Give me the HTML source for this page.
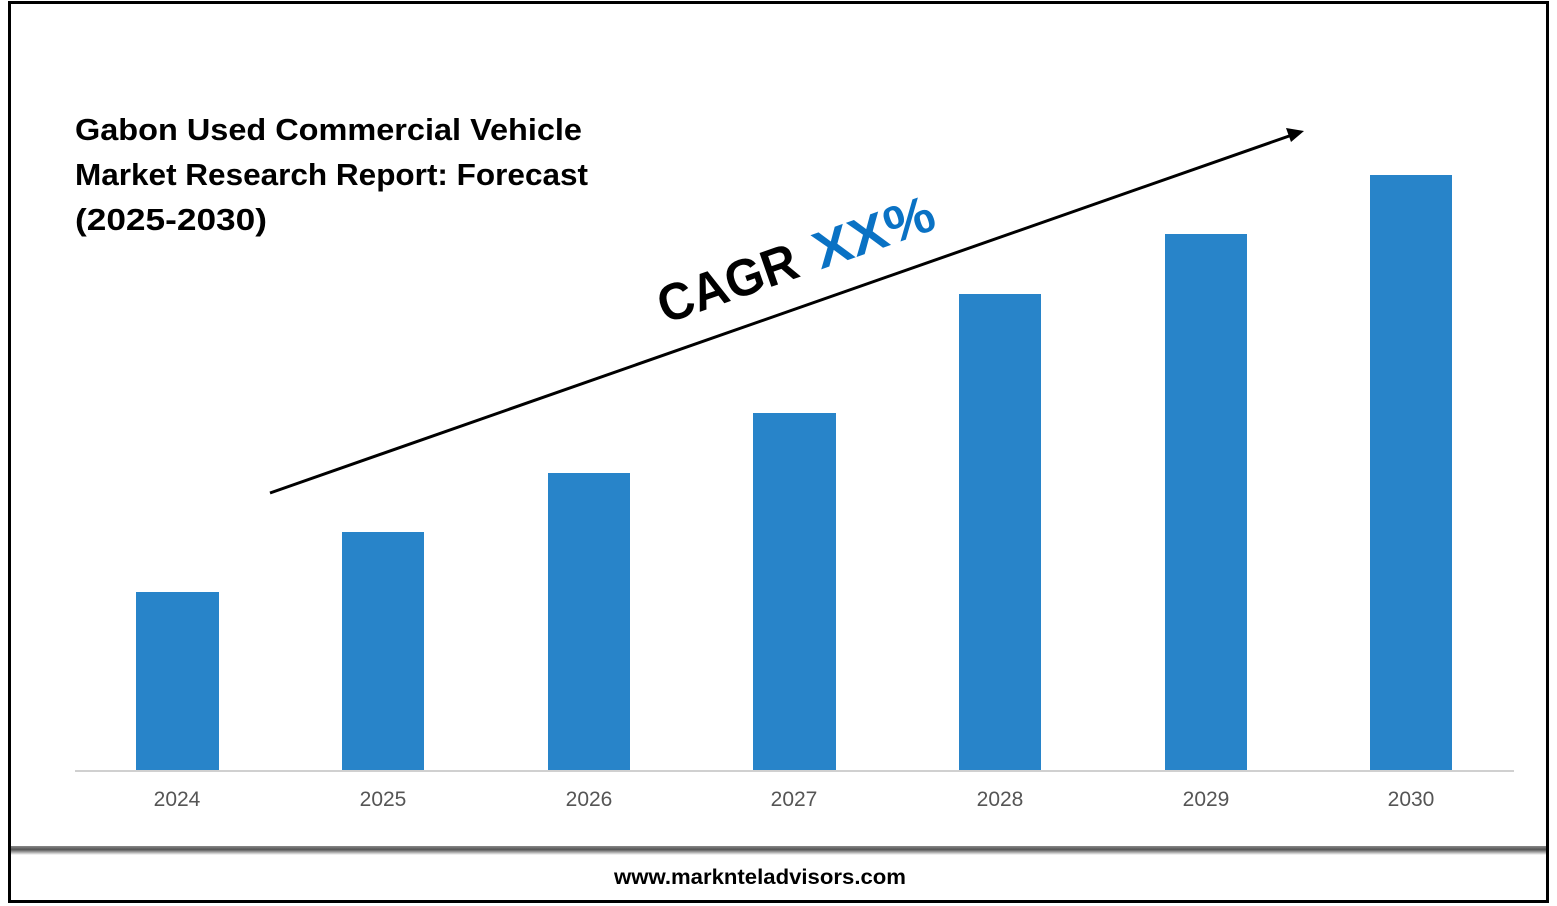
<!DOCTYPE html>
<html><head><meta charset="utf-8"><style>
html,body{margin:0;padding:0;background:#fff;width:1557px;height:906px;overflow:hidden}
</style></head><body>
<svg width="1557" height="906" viewBox="0 0 1557 906" xmlns="http://www.w3.org/2000/svg" font-family="Liberation Sans, sans-serif">
<defs>
<linearGradient id="band" x1="0" y1="0" x2="0" y2="1">
<stop offset="0" stop-color="#888"/><stop offset="0.4" stop-color="#555"/><stop offset="1" stop-color="#fff"/>
</linearGradient>
</defs>
<rect x="9.5" y="2.5" width="1538" height="899" fill="#fff" stroke="#000" stroke-width="3"/>
<rect x="11" y="846" width="1535" height="9" fill="url(#band)"/>
<text x="75" y="140" font-size="31" font-weight="bold" fill="#000" textLength="507" lengthAdjust="spacingAndGlyphs">Gabon Used Commercial Vehicle</text>
<text x="75" y="185" font-size="31" font-weight="bold" fill="#000" textLength="513" lengthAdjust="spacingAndGlyphs">Market Research Report: Forecast</text>
<text x="75" y="230" font-size="31" font-weight="bold" fill="#000" textLength="192" lengthAdjust="spacingAndGlyphs">(2025-2030)</text>
<g fill="#2884c9">
<rect x="136" y="592" width="83" height="178"/>
<rect x="342" y="532" width="82" height="238"/>
<rect x="548" y="473" width="82" height="297"/>
<rect x="753" y="413" width="83" height="357"/>
<rect x="959" y="294" width="82" height="476"/>
<rect x="1165" y="234" width="82" height="536"/>
<rect x="1370" y="175" width="82" height="595"/>
</g>
<line x1="75" y1="771" x2="1514" y2="771" stroke="#d0d0d0" stroke-width="2"/>
<g font-size="21" fill="#555" text-anchor="middle">
<text x="177" y="806">2024</text><text x="383" y="806">2025</text><text x="589" y="806">2026</text>
<text x="794" y="806">2027</text><text x="1000" y="806">2028</text><text x="1206" y="806">2029</text><text x="1411" y="806">2030</text>
</g>
<line x1="270" y1="493" x2="1292" y2="135" stroke="#000" stroke-width="3"/>
<polygon points="1304,131 1286,128 1291,142" fill="#000"/>
<g transform="translate(665,324) rotate(-19.3)">
<text x="0" y="0" font-size="52" font-weight="bold" fill="#000" textLength="145" lengthAdjust="spacingAndGlyphs">CAGR</text>
<text x="165" y="0" font-size="52" font-weight="bold" fill="#0a72c4" textLength="125" lengthAdjust="spacingAndGlyphs">XX%</text>
</g>
<text x="760" y="884" font-size="21" font-weight="bold" fill="#000" text-anchor="middle" textLength="292" lengthAdjust="spacingAndGlyphs">www.marknteladvisors.com</text>
</svg>
</body></html>
